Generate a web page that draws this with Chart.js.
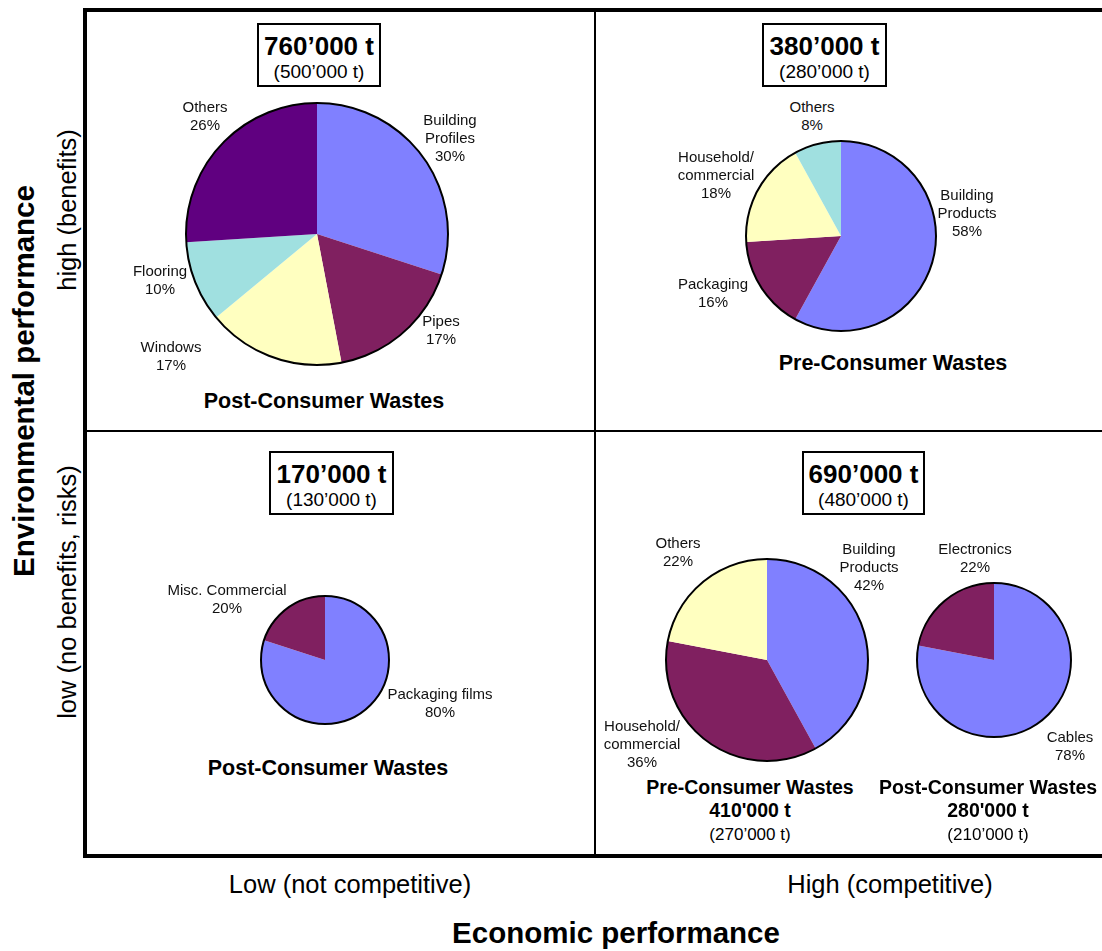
<!DOCTYPE html>
<html>
<head>
<meta charset="utf-8">
<script src="https://cdn.jsdelivr.net/npm/chart.js@4.4.0/dist/chart.umd.min.js"></script>
<style>
  html, body { margin: 0; padding: 0; background: #fff; overflow: hidden; }
  #page { position: relative; width: 1102px; height: 951px; overflow: hidden; background: #fff;
          font-family: "Liberation Sans", Arial, sans-serif; color: #000; }
  .abs { position: absolute; }
  .txt { position: absolute; white-space: pre; text-align: center; transform: translate(-50%, -50%); }
  .rot { position: absolute; white-space: pre; transform: translate(-50%, -50%) rotate(-90deg); }
  .lbl { font-size: 15px; line-height: 18px; color: #111; }
  .sub { font-size: 17px; line-height: 20px; }
  .ttl { font-size: 21.5px; font-weight: bold; }
  .ttl2 { font-size: 19.5px; font-weight: bold; }
  .axis { font-size: 25.5px; }
  .axisT { font-size: 29.5px; font-weight: bold; line-height: 32px; }
  .box { position: absolute; border: 2px solid #000; box-sizing: border-box; background: #fff; }
  .box .big { position: absolute; left: 0; right: 0; top: 7px; text-align: center; font-size: 26px; font-weight: bold; line-height: 28px; }
  .box .small { position: absolute; left: 0; right: 0; top: 36px; text-align: center; font-size: 19px; line-height: 22px; }
  canvas { position: absolute; }
</style>
</head>
<body>
<div id="page">
  <div class="abs" style="left:83px;top:8px;width:1040px;height:850px;border:4px solid #000;border-right:none;box-sizing:border-box;"></div>
  <div class="abs" style="left:594px;top:10px;width:2px;height:846px;background:#000;"></div>
  <div class="abs" style="left:85px;top:430px;width:1030px;height:2px;background:#000;"></div>
</div>
<script>
// quadrant totals (tonnes), boxes: top-left, top-right, bottom-left, bottom-right
const boxTotals = ['760’000 t', '380’000 t', '170’000 t', '690’000 t'];
const boxPrev   = ['(500’000 t)', '(280’000 t)', '(130’000 t)', '(480’000 t)'];

// top-left: post-consumer wastes
const tlLabels = ['Building\nProfiles', 'Pipes', 'Windows', 'Flooring', 'Others'];
const tlValues = [30, 17, 17, 10, 26];

// top-right: pre-consumer wastes
const trLabels = ['Building\nProducts', 'Packaging', 'Household/\ncommercial', 'Others'];
const trValues = [58, 16, 18, 8];

// bottom-left: post-consumer wastes
const blLabels = ['Packaging films', 'Misc. Commercial'];
const blValues = [80, 20];

// bottom-right: pre-consumer and post-consumer wastes
const brPreLabels  = ['Building\nProducts', 'Household/\ncommercial', 'Others'];
const brPreValues  = [42, 36, 22];
const brPostLabels = ['Cables', 'Electronics'];
const brPostValues = [78, 22];
const brSubTotals  = ["410'000 t", "280'000 t"];
const brSubPrev    = ['(270’000 t)', '(210’000 t)'];

const BLUE = '#8080FF', MAROON = '#802060', YELLOW = '#FFFFC0', CYAN = '#A0E0E0', PURPLE = '#600080';

const page = document.getElementById('page');

function addText(x, y, text, cls, rotate) {
  const d = document.createElement('div');
  d.className = (rotate ? 'rot ' : 'txt ') + cls;
  d.style.left = x + 'px';
  d.style.top = y + 'px';
  d.textContent = text;
  page.appendChild(d);
}

function addBox(left, top, w, big, small) {
  const b = document.createElement('div');
  b.className = 'box';
  b.style.left = left + 'px';
  b.style.top = top + 'px';
  b.style.width = w + 'px';
  b.style.height = '64px';
  b.innerHTML = '<div class="big"></div><div class="small"></div>';
  b.children[0].textContent = big;
  b.children[1].textContent = small;
  page.appendChild(b);
}

// black ring round the whole pie, no lines between slices
const outline = {
  id: 'outline',
  afterDatasetsDraw(chart) {
    const arc = chart.getDatasetMeta(0).data[0];
    if (!arc) return;
    const ctx = chart.ctx;
    ctx.save();
    ctx.beginPath();
    ctx.arc(arc.x, arc.y, arc.outerRadius, 0, Math.PI * 2);
    ctx.lineWidth = 2;
    ctx.strokeStyle = '#000';
    ctx.stroke();
    ctx.restore();
  }
};

function makePie(cx, cy, r, labels, values, colors) {
  const pad = 4;
  const c = document.createElement('canvas');
  c.width = 2 * r + 2 * pad;
  c.height = 2 * r + 2 * pad;
  c.style.left = (cx - r - pad) + 'px';
  c.style.top = (cy - r - pad) + 'px';
  page.appendChild(c);
  new Chart(c, {
    type: 'pie',
    data: {
      labels: labels.map(l => l.replace('\n', ' ')),
      datasets: [{ data: values, backgroundColor: colors, borderWidth: 0 }]
    },
    options: {
      responsive: false,
      animation: false,
      events: [],
      layout: { padding: pad },
      plugins: { legend: { display: false }, tooltip: { enabled: false } }
    },
    plugins: [outline]
  });
}

function pct(labels, values, i) { return labels[i] + '\n' + values[i] + '%'; }

// pies
makePie(317, 234, 131, tlLabels, tlValues, [BLUE, MAROON, YELLOW, CYAN, PURPLE]);
makePie(841, 236, 95, trLabels, trValues, [BLUE, MAROON, YELLOW, CYAN]);
makePie(325, 660, 64, blLabels, blValues, [BLUE, MAROON]);
makePie(767, 660, 101, brPreLabels, brPreValues, [BLUE, MAROON, YELLOW]);
makePie(994, 660, 77, brPostLabels, brPostValues, [BLUE, MAROON]);

// slice labels
addText(450, 138, pct(tlLabels, tlValues, 0), 'lbl');
addText(441, 330, pct(tlLabels, tlValues, 1), 'lbl');
addText(171, 356, pct(tlLabels, tlValues, 2), 'lbl');
addText(160, 280, pct(tlLabels, tlValues, 3), 'lbl');
addText(205, 116, pct(tlLabels, tlValues, 4), 'lbl');

addText(967, 213, pct(trLabels, trValues, 0), 'lbl');
addText(713, 293, pct(trLabels, trValues, 1), 'lbl');
addText(716, 175, pct(trLabels, trValues, 2), 'lbl');
addText(812, 116, pct(trLabels, trValues, 3), 'lbl');

addText(440, 703, pct(blLabels, blValues, 0), 'lbl');
addText(227, 599, pct(blLabels, blValues, 1), 'lbl');

addText(869, 567, pct(brPreLabels, brPreValues, 0), 'lbl');
addText(642, 744, pct(brPreLabels, brPreValues, 1), 'lbl');
addText(678, 552, pct(brPreLabels, brPreValues, 2), 'lbl');
addText(1070, 746, pct(brPostLabels, brPostValues, 0), 'lbl');
addText(975, 558, pct(brPostLabels, brPostValues, 1), 'lbl');

// boxes with totals
addBox(257, 23, 124, boxTotals[0], boxPrev[0]);
addBox(762, 23, 125, boxTotals[1], boxPrev[1]);
addBox(269, 451, 125, boxTotals[2], boxPrev[2]);
addBox(802, 451, 123, boxTotals[3], boxPrev[3]);

// pie titles
addText(324, 401, 'Post-Consumer Wastes', 'ttl');
addText(893, 363, 'Pre-Consumer Wastes', 'ttl');
addText(328, 768, 'Post-Consumer Wastes', 'ttl');
addText(750, 787, 'Pre-Consumer Wastes', 'ttl2');
addText(750, 810, brSubTotals[0], 'ttl2');
addText(750, 835, brSubPrev[0], 'sub');
addText(988, 787, 'Post-Consumer Wastes', 'ttl2');
addText(988, 810, brSubTotals[1], 'ttl2');
addText(988, 835, brSubPrev[1], 'sub');

// axes
addText(24, 381, 'Environmental performance', 'axisT', true);
addText(67, 210, 'high (benefits)', 'axis', true);
addText(67, 592, 'low (no benefits, risks)', 'axis', true);
addText(350, 884, 'Low (not competitive)', 'axis');
addText(890, 884, 'High (competitive)', 'axis');
addText(616, 933, 'Economic performance', 'axisT');
</script>
</body>
</html>
